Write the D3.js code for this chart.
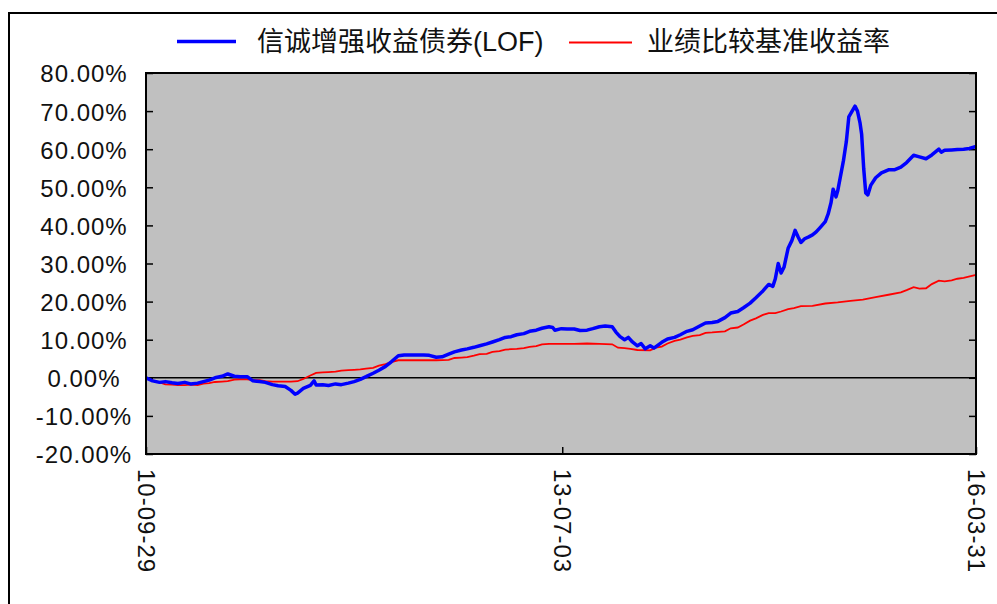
<!DOCTYPE html>
<html>
<head>
<meta charset="utf-8">
<script src="https://cdn.jsdelivr.net/npm/d3@7"></script>
<style>
html,body{margin:0;padding:0;background:#fff;}
svg{display:block;}
</style>
</head>
<body>
<svg id="chart" width="997" height="604"></svg>
<script>
// ---- data ----
const seriesNames = ["信诚增强收益债券(LOF)", "业绩比较基准收益率"];
const yTickValues = [-20, -10, 0, 10, 20, 30, 40, 50, 60, 70, 80];
const xTickLabels = ["2010-09-29", "2013-07-03", "2016-03-31"];

const fundDates = [
"2010-09-29","2010-10-15","2010-11-01","2010-11-15","2010-12-01","2010-12-15","2011-01-01","2011-01-15","2011-02-01","2011-02-15",
"2011-03-01","2011-03-15","2011-04-01","2011-04-15","2011-05-01","2011-05-15","2011-06-01","2011-06-15","2011-07-01","2011-07-15",
"2011-08-01","2011-08-15","2011-09-01","2011-09-15","2011-09-25","2011-10-01","2011-10-15","2011-11-01","2011-11-10","2011-11-15",
"2011-12-01","2011-12-15","2012-01-01","2012-01-15","2012-02-01","2012-02-15","2012-03-01","2012-03-15","2012-04-01","2012-04-15",
"2012-05-01","2012-05-15","2012-06-01","2012-06-15","2012-07-01","2012-07-15","2012-08-01","2012-08-15","2012-09-01","2012-09-15",
"2012-10-01","2012-10-15","2012-11-01","2012-11-15","2012-12-01","2012-12-15","2013-01-01","2013-01-15","2013-02-01","2013-02-15",
"2013-03-01","2013-03-15","2013-04-01","2013-04-15","2013-05-01","2013-05-15","2013-06-01","2013-06-10","2013-06-15","2013-07-01",
"2013-07-15","2013-08-01","2013-08-15","2013-09-01","2013-09-15","2013-10-01","2013-10-15","2013-11-01","2013-11-10","2013-11-20",
"2013-12-01","2013-12-10","2013-12-20","2014-01-01","2014-01-10","2014-01-20","2014-02-01","2014-02-10","2014-02-20","2014-03-01",
"2014-03-15","2014-04-01","2014-04-15","2014-05-01","2014-05-15","2014-06-01","2014-06-15","2014-07-01","2014-07-15","2014-08-01",
"2014-08-15","2014-09-01","2014-09-15","2014-10-01","2014-10-15","2014-11-01","2014-11-15","2014-11-25","2014-12-01","2014-12-08",
"2014-12-15","2014-12-22","2015-01-01","2015-01-10","2015-01-18","2015-01-25","2015-02-01","2015-02-10","2015-02-20","2015-03-01",
"2015-03-10","2015-03-20","2015-04-01","2015-04-08","2015-04-15","2015-04-20","2015-04-27","2015-05-01","2015-05-08","2015-05-15",
"2015-05-22","2015-05-28","2015-06-05","2015-06-12","2015-06-18","2015-06-24","2015-06-28","2015-07-03","2015-07-08","2015-07-13",
"2015-07-20","2015-08-01","2015-08-15","2015-09-01","2015-09-15","2015-10-01","2015-10-15","2015-11-01","2015-11-15","2015-12-01",
"2015-12-15","2016-01-01","2016-01-07","2016-01-15","2016-02-01","2016-02-15","2016-03-01","2016-03-15","2016-03-31"
];
const fundValues = [
0,-0.8,-1.2,-1.0,-1.3,-1.5,-1.2,-1.6,-1.4,-1.0,
-0.6,0.0,0.4,1.0,0.4,0.3,0.3,-0.8,-1.0,-1.2,
-1.8,-2.1,-2.3,-3.3,-4.3,-4.0,-2.8,-2.0,-0.8,-1.9,
-1.8,-2.0,-1.6,-1.8,-1.4,-1.0,-0.4,0.3,1.2,2.0,
3.0,4.2,5.8,6.0,6.0,6.0,6.0,5.9,5.4,5.5,
6.2,6.8,7.3,7.6,8.0,8.4,8.9,9.4,10.0,10.6,
10.8,11.3,11.6,12.2,12.5,13.0,13.4,13.2,12.5,12.9,
12.8,12.8,12.4,12.5,12.9,13.4,13.6,13.4,12.0,10.8,
10.0,10.6,9.4,8.4,9.0,7.6,8.4,7.8,8.6,9.3,
10.2,10.6,11.3,12.2,12.6,13.6,14.4,14.5,14.8,15.8,
17.0,17.4,18.4,19.6,21.0,22.8,24.5,24.0,26.0,30.0,
27.5,29.0,34.0,36.0,38.7,37.0,35.5,36.5,37.0,37.5,
38.3,39.5,41.0,43.0,46.0,49.5,47.5,49.0,53.0,57.0,
62.0,68.5,70.0,71.3,70.0,67.0,64.0,55.0,48.5,48.0,
50.5,52.5,53.8,54.6,54.6,55.3,56.5,58.4,58.0,57.5,
58.5,60.0,59.2,59.7,59.8,59.9,60.0,60.2,60.7
];

const benchDates = [
"2010-09-29","2010-10-15","2010-11-01","2010-11-15","2010-12-01","2010-12-15","2011-01-01","2011-01-15","2011-02-01","2011-02-15",
"2011-03-01","2011-03-15","2011-04-01","2011-04-15","2011-05-01","2011-05-15","2011-06-01","2011-06-15","2011-07-01","2011-07-15",
"2011-08-01","2011-08-15","2011-09-01","2011-09-15","2011-10-01","2011-10-15","2011-11-01","2011-11-15","2011-12-01","2011-12-15",
"2012-01-01","2012-01-15","2012-02-01","2012-02-15","2012-03-01","2012-03-15","2012-04-01","2012-04-15","2012-05-01","2012-05-15",
"2012-06-01","2012-06-15","2012-07-01","2012-08-01","2012-09-01","2012-10-01","2012-10-15","2012-11-01","2012-11-15","2012-12-01",
"2012-12-15","2013-01-01","2013-01-15","2013-02-01","2013-02-15","2013-03-01","2013-03-15","2013-04-01","2013-04-15","2013-05-01",
"2013-05-15","2013-06-01","2013-07-01","2013-08-01","2013-09-01","2013-10-01","2013-11-01","2013-11-15","2013-12-01","2013-12-15",
"2014-01-01","2014-02-01","2014-02-15","2014-03-01","2014-03-15","2014-04-01","2014-04-15","2014-05-01","2014-05-15","2014-06-01",
"2014-06-15","2014-07-01","2014-08-01","2014-08-15","2014-09-01","2014-09-15","2014-10-01","2014-10-15","2014-11-01","2014-11-15",
"2014-12-01","2014-12-15","2015-01-01","2015-01-15","2015-02-01","2015-03-01","2015-04-01","2015-05-01","2015-06-01","2015-07-01",
"2015-08-01","2015-09-01","2015-10-01","2015-10-15","2015-11-01","2015-11-15","2015-12-01","2015-12-15","2016-01-01","2016-01-15",
"2016-02-01","2016-02-15","2016-03-01","2016-03-31"
];
const benchValues = [
0,-0.7,-1.2,-1.7,-1.8,-1.9,-1.9,-1.8,-1.9,-1.5,
-1.4,-1.1,-1.0,-0.9,-0.5,-0.4,-0.4,-0.6,-0.6,-0.9,
-1.0,-1.0,-1.0,-1.0,-0.9,-0.3,0.6,1.3,1.4,1.5,
1.6,1.9,2.0,2.1,2.2,2.4,2.6,3.2,3.6,4.1,
4.6,4.6,4.6,4.6,4.6,4.7,5.2,5.3,5.4,5.8,
6.2,6.3,6.8,7.0,7.4,7.5,7.6,7.8,8.1,8.3,
8.8,8.9,8.9,8.9,9.0,8.9,8.8,7.9,7.8,7.6,
7.3,7.2,7.9,8.2,9.0,9.7,10.0,10.6,11.0,11.2,
11.8,11.9,12.2,13.0,13.2,14.0,15.0,15.6,16.5,17.0,
17.0,17.4,18.0,18.3,18.8,18.9,19.5,19.8,20.2,20.5,
21.2,21.8,22.4,23.0,23.8,23.4,23.5,24.6,25.5,25.3,
25.6,26.0,26.2,27.0
];

// ---- drawing ----
const parse = d3.timeParse("%Y-%m-%d");
const fmt = d3.timeFormat("%y-%m-%d");
const svg = d3.select("#chart");

const plot = {left: 146, right: 976, top: 73, bottom: 454};

const x = d3.scaleTime()
  .domain([parse(xTickLabels[0]), parse(xTickLabels[xTickLabels.length - 1])])
  .range([plot.left, plot.right]);
const y = d3.scaleLinear().domain([-20, 80]).range([plot.bottom, plot.top]);

// outer frame
svg.append("rect").attr("x", 9).attr("y", 13).attr("width", 1000).attr("height", 600)
  .attr("fill", "#fff").attr("stroke", "#000").attr("stroke-width", 2);

// plot background
svg.append("rect").attr("x", plot.left).attr("y", plot.top)
  .attr("width", plot.right - plot.left).attr("height", plot.bottom - plot.top)
  .attr("fill", "#c0c0c0");

// y axis left (ticks inward)
const yAxisL = svg.append("g").attr("transform", `translate(${plot.left},0)`)
  .call(d3.axisRight(y).tickValues(yTickValues).tickSize(7).tickFormat(""));
yAxisL.select(".domain").remove();
yAxisL.selectAll("line").attr("stroke", "#000").attr("stroke-width", 1.5);

const yAxisR = svg.append("g").attr("transform", `translate(${plot.right},0)`)
  .call(d3.axisLeft(y).tickValues(yTickValues).tickSize(7).tickFormat(""));
yAxisR.select(".domain").remove();
yAxisR.selectAll("line").attr("stroke", "#000").attr("stroke-width", 1.5);

// y labels
svg.append("g").selectAll("text").data(yTickValues).join("text")
  .attr("x", 84).attr("y", d => y(d) + 1)
  .attr("dy", "0.35em")
  .attr("text-anchor", "middle")
  .attr("font-family", "'Liberation Sans', Arial, sans-serif")
  .attr("font-size", 24)
  .attr("letter-spacing", 1)
  .attr("fill", "#111")
  .text(d => d.toFixed(2) + "%");

// x ticks (inward)
const xAxis = svg.append("g").attr("transform", `translate(0,${plot.bottom})`)
  .call(d3.axisTop(x).tickValues(xTickLabels.map(parse)).tickSize(7).tickFormat(""));
xAxis.select(".domain").remove();
xAxis.selectAll("line").attr("stroke", "#000").attr("stroke-width", 1.5);

// x labels rotated
svg.append("g").selectAll("text").data(xTickLabels.map(parse)).join("text")
  .attr("transform", d => `translate(${x(d)},${plot.bottom + 15}) rotate(90)`)
  .attr("dy", "0.35em")
  .attr("text-anchor", "start")
  .attr("font-family", "'Liberation Sans', Arial, sans-serif")
  .attr("font-size", 24)
  .attr("letter-spacing", 1)
  .attr("fill", "#111")
  .text(d => fmt(d));

// zero line
svg.append("line").attr("x1", plot.left).attr("x2", plot.right)
  .attr("y1", y(0)).attr("y2", y(0)).attr("stroke", "#000").attr("stroke-width", 1.5);

// series
const line = d3.line().x(d => x(d[0])).y(d => y(d[1]));
const benchData = benchDates.map((d, i) => [parse(d), benchValues[i]]);
const fundData = fundDates.map((d, i) => [parse(d), fundValues[i]]);

svg.append("path").datum(benchData).attr("d", line)
  .attr("fill", "none").attr("stroke", "#ff0000").attr("stroke-width", 1.8);
svg.append("path").datum(fundData).attr("d", line)
  .attr("fill", "none").attr("stroke", "#0000ff").attr("stroke-width", 3.5)
  .attr("stroke-linejoin", "round");

// plot border
svg.append("rect").attr("x", plot.left).attr("y", plot.top)
  .attr("width", plot.right - plot.left).attr("height", plot.bottom - plot.top)
  .attr("fill", "none").attr("stroke", "#000").attr("stroke-width", 2);

// legend
const legend = svg.append("g");
const legItems = [
  {name: seriesNames[0], color: "#0000ff", w: 3.5, x1: 177, x2: 236, tx: 257, ly: 41.5},
  {name: seriesNames[1], color: "#ff0000", w: 1.8, x1: 569, x2: 632, tx: 647, ly: 42.5}
];
legItems.forEach(it => {
  legend.append("line").attr("x1", it.x1).attr("x2", it.x2).attr("y1", it.ly).attr("y2", it.ly)
    .attr("stroke", it.color).attr("stroke-width", it.w);
  legend.append("text").attr("x", it.tx).attr("y", 42).attr("dy", "0.35em")
    .attr("font-family", "'Liberation Sans', 'Noto Sans CJK SC', sans-serif")
    .attr("font-size", 27)
    .attr("fill", "#111")
    .text(it.name);
});
</script>
</body>
</html>
